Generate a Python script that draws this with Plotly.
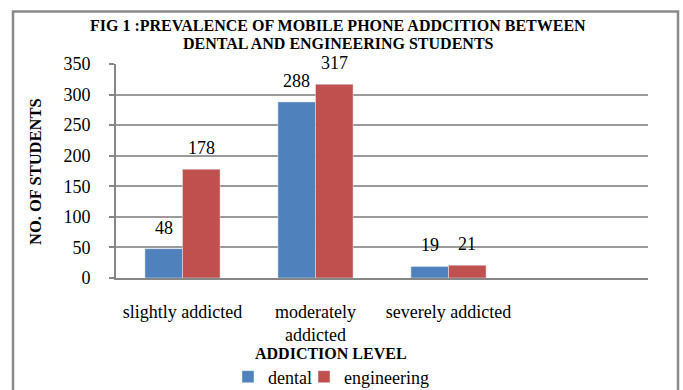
import plotly.graph_objects as go

# Survey counts by addiction level
categories = ["slightly addicted", "moderately<br>addicted", "severely addicted"]
dental = [48, 288, 19]
engineering = [178, 317, 21]
y_ticks = [0, 50, 100, 150, 200, 250, 300, 350]
title_lines = [
    "FIG 1 :PREVALENCE OF MOBILE PHONE ADDCITION BETWEEN",
    "DENTAL AND ENGINEERING STUDENTS",
]

BLUE = "#4F81BD"
RED = "#C0504D"
FONT = "Liberation Serif"

fig = go.Figure()
fig.add_trace(go.Bar(name="dental", x=categories, y=dental, marker_color=BLUE,
                     legend="legend", showlegend=True))
fig.add_trace(go.Bar(name="engineering", x=categories, y=engineering, marker_color=RED,
                     legend="legend2", showlegend=True))

# value labels above each bar
offset = 0.14125
annotations = []
for i, (d, e) in enumerate(zip(dental, engineering)):
    for xv, val in ((i - offset, d), (i + offset, e)):
        annotations.append(dict(
            x=xv, y=val, xref="x", yref="y", text=str(val), showarrow=False,
            yanchor="middle", yshift=21,
            font=dict(family=FONT, size=18, color="#000000"),
        ))

# chart title, two centred lines
for ty, line in zip((1.1822, 1.0981), title_lines):
    annotations.append(dict(
        x=(338 - 116) / 532, y=ty, xref="paper", yref="paper", text=f"<b>{line}</b>",
        showarrow=False, xanchor="center", yanchor="middle",
        font=dict(family=FONT, size=16, color="#000000"),
    ))

# axis titles
annotations.append(dict(
    x=-0.1523, y=0.5, xref="paper", yref="paper", text="<b>NO. OF STUDENTS</b>",
    showarrow=False, textangle=-90, xanchor="center", yanchor="middle",
    font=dict(family=FONT, size=16.5, color="#000000"),
))
annotations.append(dict(
    x=0.404, y=-0.352, xref="paper", yref="paper", text="<b>ADDICTION LEVEL</b>",
    showarrow=False, xanchor="center", yanchor="middle",
    font=dict(family=FONT, size=16, color="#000000"),
))

legend_style = dict(
    orientation="h", xanchor="left", xref="container",
    y=(390 - 377) / 390, yanchor="middle", yref="container",
    font=dict(family=FONT, size=18, color="#000000"),
    bgcolor="rgba(0,0,0,0)", itemwidth=30, visible=True,
)

fig.update_layout(
    width=683, height=390,
    margin=dict(l=116, r=35, t=64, b=112, autoexpand=False),
    paper_bgcolor="white", plot_bgcolor="white",
    showlegend=True,
    barmode="group", bargap=0.435, bargroupgap=0,
    font=dict(family=FONT, size=18, color="#000000"),
    legend=dict(x=228 / 683, **legend_style),
    legend2=dict(x=304 / 683, **legend_style),
    annotations=annotations,
    shapes=[dict(
        type="rect", xref="paper", yref="paper",
        x0=-0.1936, x1=1.0564, y0=-0.6, y1=1.2453,
        line=dict(color="#8a8a8a", width=2.5), fillcolor="rgba(0,0,0,0)",
    )],
)

fig.update_xaxes(
    range=[-0.5, 3.5], showgrid=False, showline=True, linecolor="#868686", linewidth=2,
    ticks="", ticklabelstandoff=16, automargin=False,
    tickfont=dict(family=FONT, size=18, color="#000000"),
)
fig.update_yaxes(
    range=[0, 350], tickvals=y_ticks, showgrid=True, gridcolor="#9a9a9a", gridwidth=1.8,
    showline=True, linecolor="#868686", linewidth=2, ticks="outside", ticklen=5,
    tickcolor="#868686", tickwidth=2, ticklabelstandoff=15, zeroline=False, automargin=False,
    tickfont=dict(family=FONT, size=18, color="#000000"),
)

fig.write_html("out.html")
